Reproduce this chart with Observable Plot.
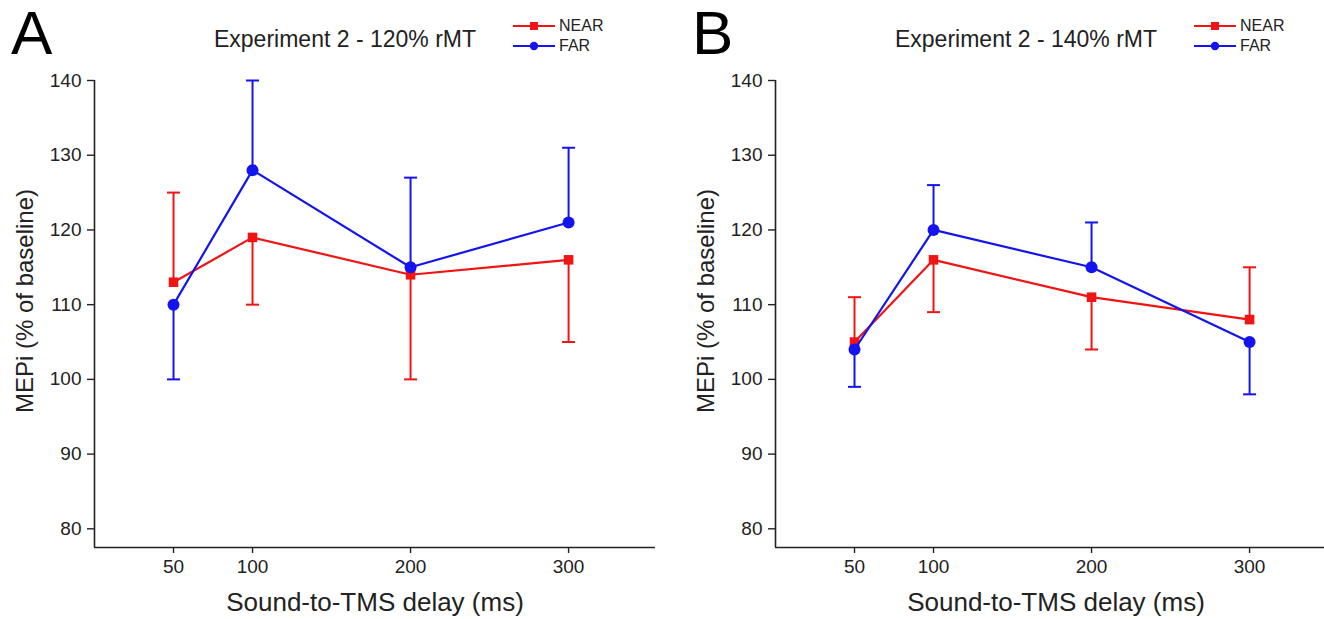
<!DOCTYPE html>
<html>
<head>
<meta charset="utf-8">
<script src="https://cdn.jsdelivr.net/npm/d3@7"></script>
<script src="https://cdn.jsdelivr.net/npm/@observablehq/plot@0.6"></script>
<style>
  html, body { margin: 0; padding: 0; background: #fff; }
  body { width: 1324px; height: 619px; overflow: hidden; position: relative;
         font-family: "Liberation Sans", Arial, Helvetica, sans-serif; color: #1a1a1a; }
  .panel { position: absolute; top: 0; width: 662px; height: 619px; }
  .letter { position: absolute; left: 11px; top: 2px; font-size: 62px; line-height: 62px; color: #000; }
  .title { position: absolute; left: 345px; top: 28px; transform: translateX(-50%);
           font-size: 23px; line-height: 23px; white-space: nowrap; color: #222; }
  .legend { position: absolute; left: 513px; top: 16px; font-size: 16px; color: #222; }
  .legend .row { display: flex; align-items: center; height: 20px; }
  .legend svg { margin-right: 4px; }
  .plot { position: absolute; left: 0; top: 60px; }
</style>
</head>
<body>
<script>
// ---- data ----
const delays = [50, 100, 200, 300];
const xTicks = [50, 100, 200, 300];
const yTicks = [80, 90, 100, 110, 120, 130, 140];

const titleA = "Experiment 2 - 120% rMT";
const nearA = [113, 119, 114, 116];
const nearErrA = [125, 110, 100, 105];
const farA = [110, 128, 115, 121];
const farErrA = [100, 140, 127, 131];

const titleB = "Experiment 2 - 140% rMT";
const nearB = [105, 116, 111, 108];
const nearErrB = [111, 109, 104, 115];
const farB = [104, 120, 115, 105];
const farErrB = [99, 126, 121, 98];

const seriesNames = ["NEAR", "FAR"];
const xDomain = [0, 355];
const yDomain = [77.5, 140];

const RED = "#f01414";
const BLUE = "#1414ee";
const AXIS = "#222";

const capSymbol = {
  draw(context, size) {
    const w = Math.sqrt(size / Math.PI);
    context.moveTo(-w, 0);
    context.lineTo(w, 0);
  }
};

function rows(means, errs, group) {
  return delays.map((d, i) => ({ delay: d, mean: means[i], err: errs[i], group }));
}

function seriesMarks(data, color, symbol, r) {
  return [
    Plot.ruleX(data, { x: "delay", y1: "mean", y2: "err", stroke: color, strokeWidth: 2 }),
    Plot.dot(data, { x: "delay", y: "err", symbol: capSymbol, r: 6.5, stroke: color, strokeWidth: 2, fill: "none" }),
    Plot.line(data, { x: "delay", y: "mean", stroke: color, strokeWidth: 2.2 }),
    Plot.dot(data, { x: "delay", y: "mean", symbol, r, fill: color, stroke: "none" })
  ];
}

function legendRow(color, marker, label) {
  const m = marker === "square"
    ? `<rect x="17" y="6" width="8" height="8" fill="${color}"/>`
    : `<circle cx="21" cy="10" r="4.2" fill="${color}"/>`;
  return `<div class="row"><svg width="42" height="20"><line x1="0" x2="42" y1="10" y2="10" stroke="${color}" stroke-width="2"/>${m}</svg><span>${label}</span></div>`;
}

function panel(left, letter, title, near, nearErr, far, farErr) {
  const div = document.createElement("div");
  div.className = "panel";
  div.style.left = left + "px";
  div.innerHTML = `<div class="letter">${letter}</div><div class="title">${title}</div>` +
    `<div class="legend">${legendRow(RED, "square", seriesNames[0])}${legendRow(BLUE, "circle", seriesNames[1])}</div>`;

  const nearRows = rows(near, nearErr, seriesNames[0]);
  const farRows = rows(far, farErr, seriesNames[1]);

  const chart = Plot.plot({
    width: 662,
    height: 559,
    marginLeft: 94,
    marginRight: 7,
    marginTop: 20,
    marginBottom: 72,
    style: { fontFamily: '"Liberation Sans", Arial, sans-serif', color: AXIS, background: "transparent" },
    x: { domain: xDomain },
    y: { domain: yDomain },
    marks: [
      Plot.ruleX([xDomain[0]], { y1: yDomain[0], y2: yTicks[yTicks.length - 1], stroke: AXIS, strokeWidth: 1.6 }),
      Plot.ruleY([yDomain[0]], { x1: xDomain[0], x2: xDomain[1], stroke: AXIS, strokeWidth: 1.6 }),
      Plot.axisY({ ticks: yTicks, tickSize: 7, tickPadding: 6, fontSize: 19, label: null, strokeWidth: 1.4 }),
      Plot.axisX({ ticks: xTicks, tickSize: 6, tickPadding: 6, fontSize: 19, label: null, strokeWidth: 1.4 }),
      Plot.text(["MEPi (% of baseline)"], { frameAnchor: "left", textAnchor: "middle", rotate: -90, dx: -69, dy: -13, fontSize: 24, fill: AXIS }),
      Plot.text(["Sound-to-TMS delay (ms)"], { frameAnchor: "bottom", textAnchor: "middle", dy: 63, fontSize: 26, fill: AXIS }),
      ...seriesMarks(nearRows, RED, "square", 5.4),
      ...seriesMarks(farRows, BLUE, "circle", 6)
    ]
  });
  chart.classList.add("plot");
  div.appendChild(chart);
  document.body.appendChild(div);
}

panel(0, "A", titleA, nearA, nearErrA, farA, farErrA);
panel(681, "B", titleB, nearB, nearErrB, farB, farErrB);
</script>
</body>
</html>
